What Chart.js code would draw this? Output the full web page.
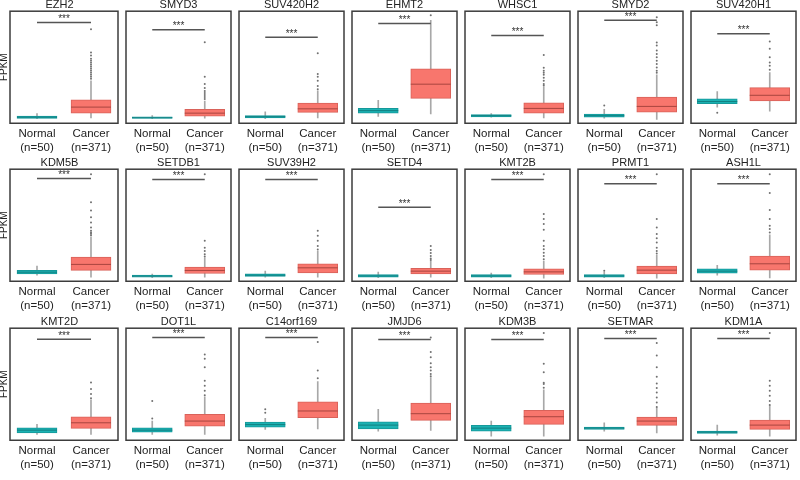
<!DOCTYPE html>
<html>
<head>
<meta charset="utf-8">
<script src="https://cdn.jsdelivr.net/npm/chart.js@4.4.0/dist/chart.umd.min.js"></script>
<style>
  body { margin: 0; background: #fff; width: 800px; height: 480px; overflow: hidden; position: relative; }
  canvas { position: absolute; }
</style>
</head>
<body>
<script>
// genes, one panel each (3 rows x 7)
var genes = ['EZH2', 'SMYD3', 'SUV420H2', 'EHMT2', 'WHSC1', 'SMYD2', 'SUV420H1',
             'KDM5B', 'SETDB1', 'SUV39H2', 'SETD4', 'KMT2B', 'PRMT1', 'ASH1L',
             'KMT2D', 'DOT1L', 'C14orf169', 'JMJD6', 'KDM3B', 'SETMAR', 'KDM1A'];
var groups = ['Normal', 'Cancer'];
var groupN = ['(n=50)', '(n=371)'];

// [min, q1, median, q3, max] (FPKM, relative)
var normalStats = [
  [4.5, 4.7, 6, 7, 9.7], [4.5, 4.7, 5.5, 6.3, 7.7], [4.5, 5.3, 6.5, 7.7, 11.3], [6.7, 10, 12.5, 14.7, 22.7],
  [6, 6.3, 7.5, 8.7, 9.5], [5, 6, 7.5, 9, 13.7], [16, 19.3, 21.5, 24.3, 31.3],
  [6, 7.3, 9, 10.7, 15], [3.5, 4, 5, 6, 7], [4, 4.7, 6, 7.3, 10], [3.5, 4, 5.3, 6.7, 9],
  [3.5, 4, 5.3, 6.7, 8], [3.5, 4, 5.3, 6.7, 9], [6, 8, 10, 12.3, 15.7],
  [5.7, 7.3, 10, 12.3, 15.7], [5.7, 8, 10, 12.3, 19], [10.7, 13, 15.5, 18, 21.7], [9, 11.3, 15, 18.3, 30.7],
  [4, 9, 12, 14.7, 19], [9, 10.7, 12, 13, 17.3], [5, 6.7, 8, 9, 15]
];
var cancerStats = [
  [5.3, 10, 16, 23.3, 42], [5, 7, 10, 13.7, 22], [5.3, 10.7, 14.3, 20, 32], [9.3, 24.7, 38.7, 54, 102],
  [5.3, 10, 14.7, 20.3, 36], [3.7, 11, 16.7, 26, 48], [12, 22, 27.7, 35.3, 50.3],
  [4, 10.7, 16.7, 24, 44], [4, 7.7, 10.7, 14, 23.3], [4, 8.3, 13.3, 17.3, 30], [4, 7.3, 10, 12.7, 20],
  [3, 6.7, 9.3, 12.3, 20], [3, 7.3, 11, 15, 26], [3.3, 11, 17.3, 25, 46],
  [5.7, 11.7, 17.3, 23.3, 40], [5.7, 14, 19, 25.7, 43], [11.3, 22.3, 29, 38, 58], [9.7, 19.7, 26.3, 36.7, 62],
  [4, 15.7, 23.3, 29.7, 50], [7.3, 14.7, 19, 23, 32], [4, 10.7, 15, 20, 34]
];
var normalOutliers = [
  [], [], [], [], [], [17.7], [10.3],
  [], [], [], [], [], [10.5], [],
  [], [21.5, 39], [27.3, 30.7], [], [], [], []
];
var cancerOutliers = [
  [93, 70, 67, 64, 62, 60, 58, 56, 54, 52, 50, 48, 46, 44],
  [80.3, 46, 39, 35, 32, 30, 28, 26, 24],
  [69.3, 48.7, 46, 42, 37, 33.7],
  [107],
  [67.7, 55, 52, 50, 48, 45, 42, 39, 37.5],
  [105, 100, 97, 80, 77, 72, 68.7, 65.3, 62, 58.7, 55.3, 52, 50],
  [81, 73.7, 65.3, 60.3, 57, 53],
  [106, 78.3, 70, 63.3, 58.3, 53.3, 50, 48.3, 47, 45.5],
  [106, 40, 33.3, 30, 26.7, 24.5],
  [50, 45, 40, 35, 31.5],
  [35, 31, 28, 25, 22.5, 21],
  [106, 66.7, 61.7, 56.7, 51, 40, 35, 31.7, 28.3, 25, 21.7],
  [106, 61.7, 53.3, 46.7, 42.7, 38.3, 33.3, 30, 27.5],
  [106, 87.3, 70.7, 61.7, 55, 51.7, 48.3],
  [57.3, 50.7, 45.7, 41.7],
  [85, 80.7, 72.3, 59, 54, 49, 44.5],
  [97.3, 69, 61.3],
  [101.7, 87.3, 82.3, 76.3, 72.3, 69, 65.7, 63.5],
  [106.3, 75.7, 67.3, 57, 55.7, 52],
  [96.3, 84, 72.3, 63, 56.3, 51.7, 47.3, 42.3, 37.3, 33],
  [106.3, 59, 54, 49, 44, 39, 35]
];
// height of the significance bar
var sigLevel = [99.7, 92.7, 85.3, 98.7, 87, 102, 88.7,
                101.7, 100.7, 100.7, 73.3, 100.7, 96.7, 96.7,
                100, 101.7, 101.7, 99.7, 99.7, 100.7, 100.7];

var boxFill = ['#1cb2b3', '#f8766d'];
var boxLine = ['#15999a', '#d9625a'];
var medLine = ['#127f80', '#a8453f'];

Chart.defaults.font.family = '"Liberation Sans", Arial, sans-serif';
Chart.defaults.color = '#222';

function makeDecor(k) {
  return {
    id: 'decor' + k,
    afterDatasetsDraw: function(chart) {
      var ctx = chart.ctx, a = chart.chartArea;
      var xs = chart.scales.x, ys = chart.scales.y;
      var meds = [normalStats[k][2], cancerStats[k][2]];
      ctx.save();
      // median lines
      chart.getDatasetMeta(1).data.forEach(function(bar, i) {
        var py = ys.getPixelForValue(meds[i]);
        ctx.strokeStyle = medLine[i];
        ctx.lineWidth = 1;
        ctx.beginPath();
        ctx.moveTo(bar.x - bar.width / 2, py);
        ctx.lineTo(bar.x + bar.width / 2, py);
        ctx.stroke();
      });
      // significance stars
      var sx = (xs.getPixelForValue(0) + xs.getPixelForValue(1)) / 2;
      var sy = ys.getPixelForValue(sigLevel[k]);
      ctx.fillStyle = '#333';
      ctx.font = '10px "Liberation Sans", Arial, sans-serif';
      ctx.textAlign = 'center';
      ctx.textBaseline = 'alphabetic';
      ctx.fillText('***', sx, sy - 0.5);
      // panel frame
      ctx.strokeStyle = '#3c3c3c';
      ctx.lineWidth = 1.5;
      ctx.strokeRect(a.left, a.top, a.right - a.left, a.bottom - a.top);
      ctx.restore();
    }
  };
}

var rowTops = [11, 169.5, 328];
var titleH = 11 * 1.2;
var areaH = 111;
var axisH = 3 + 2 * 11.5 * 1.25 + 4;

genes.forEach(function(gene, k) {
  var row = Math.floor(k / 7), col = k % 7;
  var yW = col === 0 ? 12 : 0;
  var panelLeft = 10 + col * 113;
  var cv = document.createElement('canvas');
  cv.width = 111 + 2 + yW;
  cv.height = Math.round(titleH + areaH + axisH);
  cv.style.left = (panelLeft - 1 - yW) + 'px';
  cv.style.top = (rowTops[row] - titleH) + 'px';
  document.body.appendChild(cv);

  var ns = normalStats[k], cs = cancerStats[k];
  var pts = normalOutliers[k].map(function(v) { return {x: 'Normal', y: v}; })
    .concat(cancerOutliers[k].map(function(v) { return {x: 'Cancer', y: v}; }));

  new Chart(cv.getContext('2d'), {
    type: 'bar',
    data: {
      labels: groups,
      datasets: [{
        type: 'line',
        data: [{x: 'Normal', y: sigLevel[k]}, {x: 'Cancer', y: sigLevel[k]}],
        borderColor: '#555',
        borderWidth: 1.5,
        pointRadius: 0,
        order: 0
      }, {
        data: [[ns[1], ns[3]], [cs[1], cs[3]]],
        backgroundColor: boxFill,
        borderColor: boxLine,
        borderWidth: 1,
        borderSkipped: false,
        barThickness: 40,
        grouped: false,
        order: 2
      }, {
        data: [[ns[0], ns[4]], [cs[0], cs[4]]],
        backgroundColor: '#a8a8a8',
        borderWidth: 0,
        barThickness: 1,
        grouped: false,
        order: 3
      }, {
        type: 'line',
        data: pts,
        showLine: false,
        pointRadius: 1,
        pointBorderWidth: 0,
        pointBackgroundColor: '#707070',
        order: 1
      }]
    },
    options: {
      responsive: false,
      animation: false,
      events: [],
      layout: { padding: { left: 1, right: 1, top: 0, bottom: 0 } },
      plugins: {
        legend: { display: false },
        tooltip: { enabled: false },
        title: {
          display: true,
          text: gene,
          color: '#222',
          font: { size: 11, weight: 'normal' },
          padding: { top: 0, bottom: 0 }
        }
      },
      scales: {
        x: {
          offset: true,
          grid: { display: false, drawTicks: false },
          border: { display: false },
          ticks: {
            padding: 3,
            color: '#222',
            autoSkip: false,
            maxRotation: 0,
            font: { size: 11.5, lineHeight: 1.25 },
            callback: function(v, i) { return [groups[i], groupN[i]]; }
          }
        },
        y: {
          display: col === 0,
          min: 0,
          max: 111,
          grid: { display: false, drawTicks: false },
          border: { display: false },
          ticks: { display: false },
          title: {
            display: true,
            text: 'FPKM',
            color: '#222',
            font: { size: 10 },
            padding: 0
          }
        }
      }
    },
    plugins: [makeDecor(k)]
  });
});
</script>
</body>
</html>
